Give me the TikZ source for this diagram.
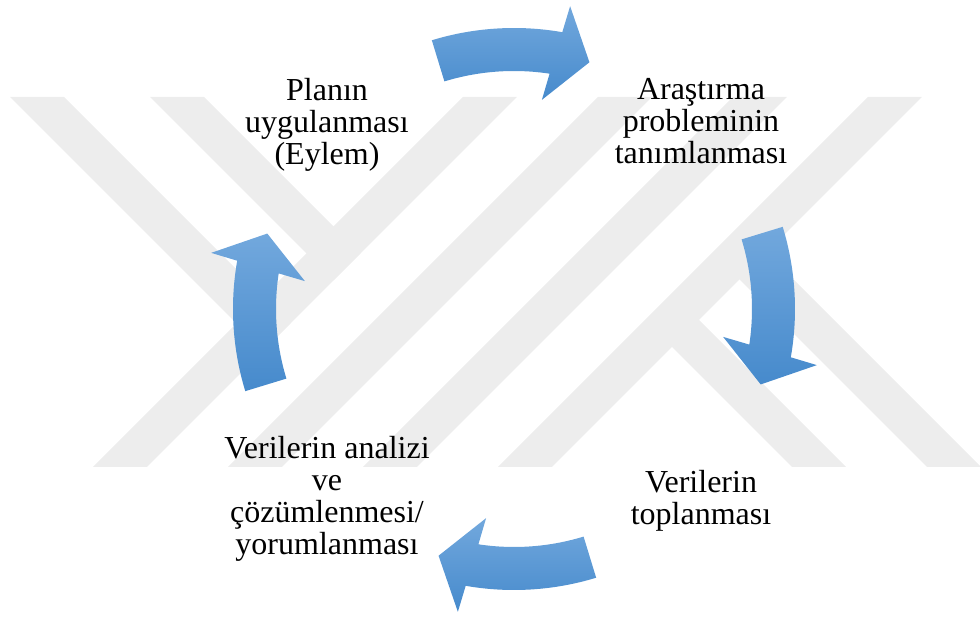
\documentclass[tikz,border=0pt]{standalone}
\usepackage{fontspec}
\setmainfont{Liberation Serif}
\definecolor{arrowtop}{RGB}{114,168,221}
\definecolor{arrowbot}{RGB}{70,138,204}
\definecolor{wmgray}{RGB}{237,237,237}
\begin{document}
\begin{tikzpicture}[x=1pt,y=1pt,
  cyctext/.style={align=center,anchor=base,inner sep=0pt,font=\fontsize{32}{32}\selectfont},
  wm/.style={fill=wmgray},
  carrow/.style={top color=arrowtop,bottom color=arrowbot}]
\def\ri{238}
\def\ro{281}
\useasboundingbox (-514,-308) rectangle (466,309);
% watermark
\begin{scope}
\clip (-514,-158) rectangle (466,212);
\foreach \k in {-263,-128,7,142}
  \fill[wm] (\k+212,212) -- ++(54,0) -- ++(-370,-370) -- ++(-54,0) -- cycle;
\fill[wm] (-504,212) -- (-450,212) -- (-223.5,-14.5) -- (-250.5,-41.5) -- cycle;
\fill[wm] (-364,212) -- (-310,212) -- (-153.5,55.5) -- (-180.5,28.5) -- cycle;
\fill[wm] (144.5,-24.5) -- (171.5,2.5) -- (332,-158) -- (278,-158) -- cycle;
\fill[wm] (212,43) -- (239,70) -- (467,-158) -- (413,-158) -- cycle;
\end{scope}
% arrows
\foreach \t in {90,0,-90,180}
  \shade[carrow] (\t+17:\ro) arc[start angle=\t+17,end angle=\t-9.9,radius=\ro]
    -- (\t-10.5:308) -- (\t-17:258) -- (\t-7.6:211) -- (\t-8.6:\ri)
    arc[start angle=\t-8.6,end angle=\t+17,radius=\ri] -- cycle;
% texts (base = last line)
\node (plan) at (-187,144) [cyctext] {Planın\\uygulanması\\(Eylem)};
\node (problem) at (187,145) [cyctext] {Araştırma\\probleminin\\tanımlanması};
\node (collect) at (187,-216) [cyctext] {Verilerin\\toplanması};
\node (analysis) at (-187,-246) [cyctext] {Verilerin analizi\\ve\\çözümlenmesi/\\yorumlanması};
\end{tikzpicture}
\end{document}
